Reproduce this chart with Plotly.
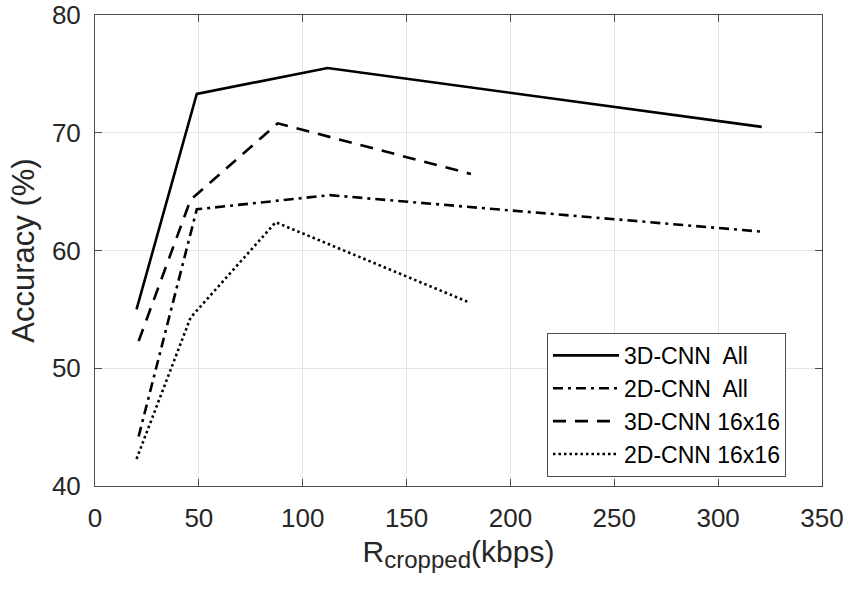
import plotly.graph_objects as go

series_names = ["3D-CNN  All", "2D-CNN  All", "3D-CNN 16x16", "2D-CNN 16x16"]
x_3d_all = [20, 49, 112, 321]
y_3d_all = [55.0, 73.3, 75.5, 70.5]
x_2d_all = [21, 49, 113, 321]
y_2d_all = [44.2, 63.5, 64.7, 61.6]
x_3d_16 = [21, 46, 88, 181]
y_3d_16 = [52.3, 64.3, 70.8, 66.5]
x_2d_16 = [20, 46, 87, 180]
y_2d_16 = [42.3, 54.3, 62.4, 55.6]

x_ticks = [0, 50, 100, 150, 200, 250, 300, 350]
y_ticks = [40, 50, 60, 70, 80]

dashes = ["solid", "10px,5px,3px,5px", "13px,9px", "2.5px,3px"]
xs = [x_3d_all, x_2d_all, x_3d_16, x_2d_16]
ys = [y_3d_all, y_2d_all, y_3d_16, y_2d_16]

fig = go.Figure()
for name, x, y, d in zip(series_names, xs, ys, dashes):
    fig.add_trace(go.Scatter(x=x, y=y, mode="lines", name=name,
                             line=dict(color="black", width=2.6, dash=d)))

font_family = "Liberation Sans, Arial, Helvetica, sans-serif"
text_col = "#262626"
line_col = "#4d4d4d"
fig.update_layout(
    width=849, height=590,
    margin=dict(l=95, r=27, t=15, b=104, autoexpand=False),
    paper_bgcolor="white", plot_bgcolor="white",
    font=dict(family=font_family, color=text_col, size=26),
    showlegend=True,
    legend=dict(x=0.6217, y=0.325, xanchor="left", yanchor="top",
                bgcolor="white", bordercolor=line_col, borderwidth=1,
                font=dict(size=23, color="black"), tracegroupgap=0,
                itemwidth=66),
    xaxis=dict(range=[0, 350], tickvals=x_ticks, showgrid=True,
               gridcolor="#e5e5e5", gridwidth=1, zeroline=False,
               showline=True, linecolor=line_col, linewidth=1, mirror="ticks",
               ticks="inside", ticklen=7, tickcolor=line_col,
               tickfont=dict(size=26), automargin=False, ticklabelstandoff=9,
               title=dict(text="R<sub><span style='font-size:24px'>cropped</span></sub>(kbps)",
                          font=dict(size=30), standoff=8)),
    yaxis=dict(range=[40, 80], tickvals=y_ticks, showgrid=True,
               gridcolor="#e5e5e5", gridwidth=1, zeroline=False,
               showline=True, linecolor=line_col, linewidth=1, mirror="ticks",
               ticks="inside", ticklen=7, tickcolor=line_col,
               tickfont=dict(size=26), automargin=False, ticklabelstandoff=8,
               title=dict(text="Accuracy (%)", font=dict(size=31), standoff=8)),
)

fig.write_html("out.html")
